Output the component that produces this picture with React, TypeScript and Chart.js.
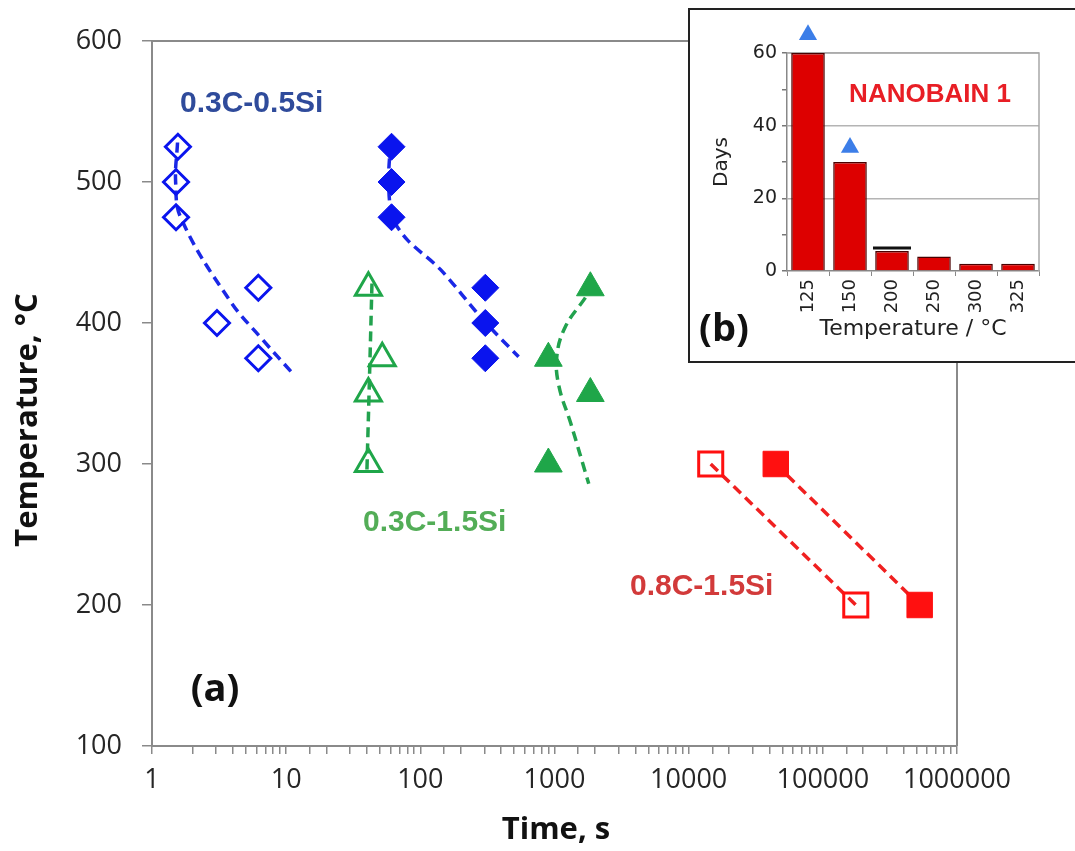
import React, { useEffect, useRef } from "react";
import { Chart, registerables } from "chart.js";

Chart.register(...registerables);

// ---------- main chart data (a) ----------
const yTickValues = [100, 200, 300, 400, 500, 600];

// 0.3C-0.5Si
const openDiamondTime = [1.56, 1.51, 1.51, 3.05, 6.2, 6.2];
const openDiamondTemp = [525, 500, 475, 400, 425, 375];
const openDiamondFitTime = [1.55, 1.5, 1.65, 3.8, 6.7, 11];
const openDiamondFitTemp = [528, 500, 474, 416, 388, 365];
const filledDiamondTime = [61, 61, 61, 305, 305, 305];
const filledDiamondTemp = [525, 500, 475, 425, 400, 375];
const filledDiamondFitTime = [60, 58, 62, 80, 141, 295, 540];
const filledDiamondFitTemp = [528, 500, 475, 459, 438, 402, 376];

// 0.3C-1.5Si
const openTriangleTime = [41, 52, 41, 41];
const openTriangleTemp = [425, 375, 350, 300];
const openTriangleFitTime = [43.6, 42, 40];
const openTriangleFitTemp = [428, 369, 296];
const filledTriangleTime = [900, 900, 1850, 1850];
const filledTriangleTemp = [375, 300, 425, 350];
const filledTriangleFitTime = [1700, 1200, 1040, 1080, 1320, 1800];
const filledTriangleFitTemp = [418, 397, 376, 355, 329, 286];

// 0.8C-1.5Si
const openSquareTime = [14600, 176000];
const openSquareTemp = [300, 200];
const filledSquareTime = [44600, 527000];
const filledSquareTemp = [300, 200];

// ---------- inset data (b) ----------
const insetTemps = ["125", "150", "200", "250", "300", "325"];
const insetDays = [60, 30, 5.5, 4, 2, 2];
const insetLowerBoundDays = [65, 34, null, null, null, null];
const insetMarkDays = [null, null, 6.3, null, null, null];

const BLUE = "#0A14EE";
const GREEN = "#1FA649";
const RED = "#FF1010";

const pts = (xs: number[], ys: number[]) => xs.map((x, i) => ({ x, y: ys[i] }));

const isPow10 = (v: number) => {
  const l = Math.log10(v);
  return Math.abs(l - Math.round(l)) < 1e-9;
};

function MainChart() {
  const ref = useRef<HTMLCanvasElement | null>(null);
  useEffect(() => {
    if (!ref.current) return;
    const fit = (xs: number[], ys: number[], color: string, tension: number) => ({
      data: pts(xs, ys),
      showLine: true,
      borderColor: color,
      borderWidth: 3.5,
      borderDash: [10, 6],
      pointRadius: 0,
      tension,
      order: 2,
    });
    const marks = (
      xs: number[],
      ys: number[],
      color: string,
      style: string,
      radius: number,
      filled: boolean
    ) => ({
      data: pts(xs, ys),
      showLine: false,
      pointStyle: style,
      pointRadius: radius,
      pointBorderWidth: filled ? 1 : 3,
      pointBorderColor: color,
      pointBackgroundColor: filled ? color : "rgba(0,0,0,0)",
      order: 1,
    });

    const boxPlugin = {
      id: "box",
      beforeDatasetsDraw(chart: any) {
        const { ctx, chartArea: a } = chart;
        ctx.save();
        ctx.strokeStyle = "#8a8a8a";
        ctx.lineWidth = 2;
        ctx.beginPath();
        ctx.moveTo(a.left, a.top);
        ctx.lineTo(a.right, a.top);
        ctx.lineTo(a.right, a.bottom);
        ctx.stroke();
        ctx.restore();
      },
    };

    const labelPlugin = {
      id: "labels",
      afterDraw(chart: any) {
        const { ctx } = chart;
        ctx.save();
        ctx.textBaseline = "middle";
        ctx.textAlign = "left";
        ctx.font = 'bold 30px "Liberation Sans", Arial, sans-serif';
        ctx.fillStyle = "#2F4B9B";
        ctx.fillText("0.3C-0.5Si", 180, 104);
        ctx.fillStyle = "#53AD57";
        ctx.fillText("0.3C-1.5Si", 363, 523);
        ctx.fillStyle = "#D23A3A";
        ctx.fillText("0.8C-1.5Si", 630, 587);
        ctx.fillStyle = "#111";
        ctx.textAlign = "center";
        ctx.font = 'bold 38px "Open Sans", sans-serif';
        ctx.fillText("(a)", 215, 690);
        ctx.font = 'bold 31px "Open Sans", sans-serif';
        ctx.fillText("Time, s", 556, 830);
        ctx.translate(28, 420);
        ctx.rotate(-Math.PI / 2);
        ctx.fillText("Temperature, \u00B0C", 0, 0);
        ctx.restore();
      },
    };

    const chart = new Chart(ref.current, {
      type: "scatter",
      data: {
        datasets: [
          marks(openDiamondTime, openDiamondTemp, BLUE, "rectRot", 12.5, false),
          marks(filledDiamondTime, filledDiamondTemp, BLUE, "rectRot", 13.5, true),
          marks(openTriangleTime, openTriangleTemp, GREEN, "triangle", 15, false),
          marks(filledTriangleTime, filledTriangleTemp, GREEN, "triangle", 16, true),
          marks(openSquareTime, openSquareTemp, RED, "rect", 17, false),
          marks(filledSquareTime, filledSquareTemp, RED, "rect", 18, true),
          fit(openDiamondFitTime, openDiamondFitTemp, "#1A28E6", 0.4),
          fit(filledDiamondFitTime, filledDiamondFitTemp, "#1A28E6", 0.3),
          fit(openTriangleFitTime, openTriangleFitTemp, "#22A24E", 0.4),
          fit(filledTriangleFitTime, filledTriangleFitTemp, "#22A24E", 0.4),
          fit(openSquareTime, openSquareTemp, "#F02020", 0),
          fit(filledSquareTime, filledSquareTemp, "#F02020", 0),
        ] as any,
      },
      options: {
        animation: false,
        responsive: false,
        events: [],
        layout: { padding: { top: 41, right: 118, left: 0, bottom: 0 } },
        plugins: { legend: { display: false }, tooltip: { enabled: false } },
        scales: {
          x: {
            type: "logarithmic",
            min: 1,
            max: 1000000,
            afterFit: (s: any) => {
              s.height = 105;
            },
            ticks: {
              autoSkip: false,
              maxRotation: 0,
              minRotation: 0,
              padding: 10,
              color: "#262626",
              font: { family: '"Open Sans", sans-serif', size: 27 },
              callback: (v: any) => (isPow10(Number(v)) ? String(v) : ""),
            },
            grid: {
              drawOnChartArea: false,
              drawTicks: true,
              tickLength: 8,
              color: "#8a8a8a",
              lineWidth: 1.5,
            },
            border: { display: true, color: "#8a8a8a", width: 2 },
          },
          y: {
            type: "linear",
            min: 100,
            max: 600,
            afterFit: (s: any) => {
              s.width = 152;
            },
            afterBuildTicks: (s: any) => {
              s.ticks = yTickValues.map((v) => ({ value: v }));
            },
            ticks: {
              padding: 20,
              color: "#262626",
              font: { family: '"Open Sans", sans-serif', size: 27 },
            },
            grid: {
              drawOnChartArea: false,
              drawTicks: true,
              tickLength: 10,
              color: "#8a8a8a",
              lineWidth: 1.5,
            },
            border: { display: true, color: "#8a8a8a", width: 2 },
          },
        },
      } as any,
      plugins: [boxPlugin, labelPlugin],
    });
    return () => chart.destroy();
  }, []);
  return (
    <canvas
      ref={ref}
      width={1075}
      height={851}
      style={{ position: "absolute", left: 0, top: 0, width: 1075, height: 851 }}
    />
  );
}

function InsetChart() {
  const ref = useRef<HTMLCanvasElement | null>(null);
  useEffect(() => {
    if (!ref.current) return;
    const framePlugin = {
      id: "frame",
      beforeDatasetsDraw(chart: any) {
        const { ctx, chartArea: a } = chart;
        ctx.save();
        ctx.strokeStyle = "#a8a8a8";
        ctx.lineWidth = 1.5;
        ctx.beginPath();
        ctx.moveTo(a.left, a.top);
        ctx.lineTo(a.right, a.top);
        ctx.lineTo(a.right, a.bottom);
        ctx.stroke();
        ctx.restore();
      },
    };
    // lower-bound arrows (values may lie above the axis maximum, so drawn unclipped)
    const arrowPlugin = {
      id: "arrows",
      afterDatasetsDraw(chart: any) {
        const { ctx } = chart;
        const xs = chart.scales.x;
        const ys = chart.scales.y;
        const r = 10.5;
        ctx.save();
        ctx.fillStyle = "#3C7EE8";
        insetLowerBoundDays.forEach((v, i) => {
          if (v === null) return;
          const x = xs.getPixelForValue(i);
          const y = ys.getPixelForValue(v);
          ctx.beginPath();
          ctx.moveTo(x, y - r);
          ctx.lineTo(x + r * Math.sin((2 * Math.PI) / 3), y + r / 2);
          ctx.lineTo(x - r * Math.sin((2 * Math.PI) / 3), y + r / 2);
          ctx.closePath();
          ctx.fill();
        });
        ctx.restore();
      },
    };
    const textPlugin = {
      id: "insetText",
      afterDraw(chart: any) {
        const { ctx } = chart;
        ctx.save();
        ctx.textAlign = "center";
        ctx.textBaseline = "middle";
        ctx.fillStyle = "#E81E25";
        ctx.font = 'bold 26px "Liberation Sans", Arial, sans-serif';
        ctx.fillText("NANOBAIN 1", 240, 85);
        ctx.fillStyle = "#111";
        ctx.font = 'bold 38px "Open Sans", sans-serif';
        ctx.fillText("(b)", 34, 320);
        ctx.restore();
      },
    };
    const chart = new Chart(ref.current, {
      type: "bar",
      data: {
        labels: insetTemps,
        datasets: [
          {
            type: "line",
            data: insetMarkDays,
            showLine: false,
            pointStyle: "line",
            pointRadius: 19,
            pointBorderColor: "#111",
            pointBorderWidth: 3,
            order: 1,
          },
          {
            type: "bar",
            data: insetDays,
            backgroundColor: "#DD0000",
            borderColor: "#4a0000",
            borderWidth: 1.5,
            barPercentage: 0.8,
            categoryPercentage: 1,
            order: 2,
          },
        ] as any,
      },
      options: {
        animation: false,
        responsive: false,
        events: [],
        layout: { padding: { top: 43, right: 36, left: 0, bottom: 0 } },
        plugins: { legend: { display: false }, tooltip: { enabled: false } },
        scales: {
          x: {
            afterFit: (s: any) => {
              s.height = 90;
            },
            ticks: {
              minRotation: 90,
              maxRotation: 90,
              padding: 3,
              color: "#222",
              font: { family: '"DejaVu Sans", sans-serif', size: 18 },
            },
            grid: {
              drawOnChartArea: false,
              drawTicks: true,
              tickLength: 5,
              color: "#888",
            },
            border: { display: true, color: "#888", width: 1.5 },
            title: {
              display: true,
              text: "Temperature / \u00B0C",
              color: "#222",
              font: { family: '"DejaVu Sans", sans-serif', size: 22 },
              padding: { top: 0, bottom: 19 },
            },
          },
          y: {
            min: 0,
            max: 60,
            afterFit: (s: any) => {
              s.width = 97;
            },
            ticks: {
              stepSize: 10,
              padding: 5,
              color: "#222",
              font: { family: '"DejaVu Sans", sans-serif', size: 19 },
              callback: (v: any) => (Number(v) % 20 === 0 ? String(v) : ""),
            },
            grid: {
              drawTicks: true,
              tickLength: 5,
              tickColor: "#777",
              lineWidth: 1.5,
              color: (c: any) =>
                c.tick && c.tick.value % 20 === 0 && c.tick.value > 0 ? "#b4b4b4" : "rgba(0,0,0,0)",
            },
            border: { display: true, color: "#888", width: 1.5 },
            title: {
              display: true,
              text: "Days",
              color: "#222",
              font: { family: '"DejaVu Sans", sans-serif', size: 20 },
              padding: { top: 20, bottom: 0 },
            },
          },
        },
      } as any,
      plugins: [framePlugin, arrowPlugin, textPlugin],
    });
    return () => chart.destroy();
  }, []);
  return (
    <canvas
      ref={ref}
      width={385}
      height={351}
      style={{ display: "block", width: 385, height: 351 }}
    />
  );
}

export default function App() {
  return (
    <div
      style={{
        position: "absolute",
        left: 0,
        top: 0,
        width: 1075,
        height: 851,
        overflow: "hidden",
        background: "#fff",
      }}
    >
      <MainChart />
      <div
        style={{
          position: "absolute",
          left: 688,
          top: 8,
          width: 400,
          height: 351,
          border: "2px solid #222",
          background: "#fff",
          boxSizing: "content-box",
        }}
      >
        <InsetChart />
      </div>
    </div>
  );
}
